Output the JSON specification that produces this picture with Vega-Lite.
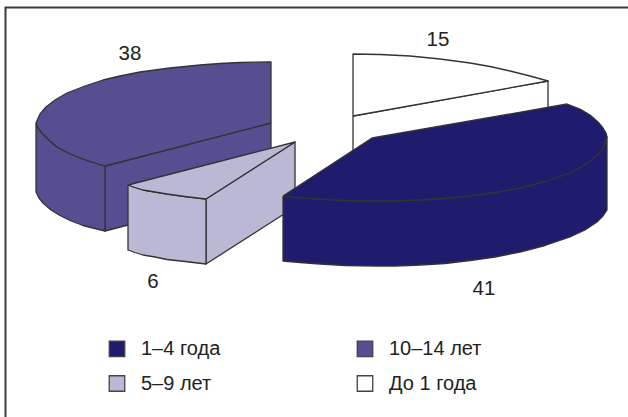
{
  "$schema": "https://vega.github.io/schema/vega-lite/v6.json",
  "width": 628,
  "height": 417,
  "autosize": "none",
  "padding": 0,
  "background": "white",
  "config": {"view": {"stroke": null}, "font": "Liberation Sans"},
  "datasets": {
    "frame": [
      {"n": 1, "x": 628, "y": 7.5},
      {"n": 2, "x": 5.5, "y": 7.5},
      {"n": 3, "x": 5.5, "y": 417}
    ],
    "shares": [
      {"group": "1–4 года", "share": 41, "lx": 484, "ly": 289},
      {"group": "10–14 лет", "share": 38, "lx": 130, "ly": 54},
      {"group": "5–9 лет", "share": 6, "lx": 153, "ly": 282},
      {"group": "До 1 года", "share": 15, "lx": 438, "ly": 40}
    ],
    "faces": [
      {"group": "До 1 года", "face": "w-front", "n": 1, "x": 353, "y": 116},
      {"group": "До 1 года", "face": "w-front", "n": 2, "x": 548, "y": 81},
      {"group": "До 1 года", "face": "w-front", "n": 3, "x": 548, "y": 145},
      {"group": "До 1 года", "face": "w-front", "n": 4, "x": 353, "y": 180},
      {"group": "До 1 года", "face": "w-front", "n": 5, "x": 353, "y": 116},

      {"group": "До 1 года", "face": "w-top", "n": 1, "x": 353, "y": 116},
      {"group": "До 1 года", "face": "w-top", "n": 2, "x": 353, "y": 54},
      {"group": "До 1 года", "face": "w-top", "n": 3, "x": 380, "y": 54.5},
      {"group": "До 1 года", "face": "w-top", "n": 4, "x": 410, "y": 56},
      {"group": "До 1 года", "face": "w-top", "n": 5, "x": 440, "y": 59},
      {"group": "До 1 года", "face": "w-top", "n": 6, "x": 470, "y": 63},
      {"group": "До 1 года", "face": "w-top", "n": 7, "x": 490, "y": 66.5},
      {"group": "До 1 года", "face": "w-top", "n": 8, "x": 510, "y": 71},
      {"group": "До 1 года", "face": "w-top", "n": 9, "x": 530, "y": 76},
      {"group": "До 1 года", "face": "w-top", "n": 10, "x": 548, "y": 81},
      {"group": "До 1 года", "face": "w-top", "n": 11, "x": 353, "y": 116},

      {"group": "10–14 лет", "face": "p-inner", "n": 1, "x": 105, "y": 166},
      {"group": "10–14 лет", "face": "p-inner", "n": 2, "x": 271, "y": 123},
      {"group": "10–14 лет", "face": "p-inner", "n": 3, "x": 271, "y": 188},
      {"group": "10–14 лет", "face": "p-inner", "n": 4, "x": 105, "y": 231},
      {"group": "10–14 лет", "face": "p-inner", "n": 5, "x": 105, "y": 166},

      {"group": "10–14 лет", "face": "p-outer", "n": 1, "x": 36, "y": 123},
      {"group": "10–14 лет", "face": "p-outer", "n": 2, "x": 38, "y": 128},
      {"group": "10–14 лет", "face": "p-outer", "n": 3, "x": 42, "y": 133},
      {"group": "10–14 лет", "face": "p-outer", "n": 4, "x": 49, "y": 140},
      {"group": "10–14 лет", "face": "p-outer", "n": 5, "x": 57, "y": 147},
      {"group": "10–14 лет", "face": "p-outer", "n": 6, "x": 68, "y": 153},
      {"group": "10–14 лет", "face": "p-outer", "n": 7, "x": 80, "y": 158},
      {"group": "10–14 лет", "face": "p-outer", "n": 8, "x": 92, "y": 162},
      {"group": "10–14 лет", "face": "p-outer", "n": 9, "x": 105, "y": 166},
      {"group": "10–14 лет", "face": "p-outer", "n": 10, "x": 105, "y": 231},
      {"group": "10–14 лет", "face": "p-outer", "n": 11, "x": 93, "y": 228},
      {"group": "10–14 лет", "face": "p-outer", "n": 12, "x": 83, "y": 225.5},
      {"group": "10–14 лет", "face": "p-outer", "n": 13, "x": 70, "y": 220.5},
      {"group": "10–14 лет", "face": "p-outer", "n": 14, "x": 60, "y": 215.5},
      {"group": "10–14 лет", "face": "p-outer", "n": 15, "x": 51, "y": 210},
      {"group": "10–14 лет", "face": "p-outer", "n": 16, "x": 43, "y": 203},
      {"group": "10–14 лет", "face": "p-outer", "n": 17, "x": 39, "y": 198},
      {"group": "10–14 лет", "face": "p-outer", "n": 18, "x": 36, "y": 192},
      {"group": "10–14 лет", "face": "p-outer", "n": 19, "x": 36, "y": 123},

      {"group": "10–14 лет", "face": "p-top", "n": 1, "x": 271, "y": 123},
      {"group": "10–14 лет", "face": "p-top", "n": 2, "x": 271, "y": 62},
      {"group": "10–14 лет", "face": "p-top", "n": 3, "x": 255, "y": 62.2},
      {"group": "10–14 лет", "face": "p-top", "n": 4, "x": 240, "y": 62.5},
      {"group": "10–14 лет", "face": "p-top", "n": 5, "x": 220, "y": 63.5},
      {"group": "10–14 лет", "face": "p-top", "n": 6, "x": 200, "y": 65},
      {"group": "10–14 лет", "face": "p-top", "n": 7, "x": 170, "y": 68},
      {"group": "10–14 лет", "face": "p-top", "n": 8, "x": 140, "y": 72},
      {"group": "10–14 лет", "face": "p-top", "n": 9, "x": 120, "y": 76},
      {"group": "10–14 лет", "face": "p-top", "n": 10, "x": 103, "y": 80},
      {"group": "10–14 лет", "face": "p-top", "n": 11, "x": 85, "y": 86},
      {"group": "10–14 лет", "face": "p-top", "n": 12, "x": 67, "y": 93},
      {"group": "10–14 лет", "face": "p-top", "n": 13, "x": 55, "y": 100},
      {"group": "10–14 лет", "face": "p-top", "n": 14, "x": 46, "y": 107},
      {"group": "10–14 лет", "face": "p-top", "n": 15, "x": 40, "y": 114},
      {"group": "10–14 лет", "face": "p-top", "n": 16, "x": 36, "y": 123},
      {"group": "10–14 лет", "face": "p-top", "n": 17, "x": 38, "y": 128},
      {"group": "10–14 лет", "face": "p-top", "n": 18, "x": 42, "y": 133},
      {"group": "10–14 лет", "face": "p-top", "n": 19, "x": 49, "y": 140},
      {"group": "10–14 лет", "face": "p-top", "n": 20, "x": 57, "y": 147},
      {"group": "10–14 лет", "face": "p-top", "n": 21, "x": 68, "y": 153},
      {"group": "10–14 лет", "face": "p-top", "n": 22, "x": 80, "y": 158},
      {"group": "10–14 лет", "face": "p-top", "n": 23, "x": 92, "y": 162},
      {"group": "10–14 лет", "face": "p-top", "n": 24, "x": 105, "y": 166},
      {"group": "10–14 лет", "face": "p-top", "n": 25, "x": 271, "y": 123},

      {"group": "5–9 лет", "face": "l-right", "n": 1, "x": 206, "y": 199},
      {"group": "5–9 лет", "face": "l-right", "n": 2, "x": 295, "y": 142},
      {"group": "5–9 лет", "face": "l-right", "n": 3, "x": 295, "y": 207},
      {"group": "5–9 лет", "face": "l-right", "n": 4, "x": 206, "y": 264},
      {"group": "5–9 лет", "face": "l-right", "n": 5, "x": 206, "y": 199},

      {"group": "5–9 лет", "face": "l-left", "n": 1, "x": 128, "y": 185},
      {"group": "5–9 лет", "face": "l-left", "n": 2, "x": 135, "y": 187.5},
      {"group": "5–9 лет", "face": "l-left", "n": 3, "x": 143, "y": 190},
      {"group": "5–9 лет", "face": "l-left", "n": 4, "x": 155, "y": 192},
      {"group": "5–9 лет", "face": "l-left", "n": 5, "x": 167, "y": 194},
      {"group": "5–9 лет", "face": "l-left", "n": 6, "x": 185, "y": 196.5},
      {"group": "5–9 лет", "face": "l-left", "n": 7, "x": 206, "y": 199},
      {"group": "5–9 лет", "face": "l-left", "n": 8, "x": 206, "y": 264},
      {"group": "5–9 лет", "face": "l-left", "n": 9, "x": 185, "y": 261.5},
      {"group": "5–9 лет", "face": "l-left", "n": 10, "x": 167, "y": 259.5},
      {"group": "5–9 лет", "face": "l-left", "n": 11, "x": 155, "y": 257},
      {"group": "5–9 лет", "face": "l-left", "n": 12, "x": 143, "y": 255},
      {"group": "5–9 лет", "face": "l-left", "n": 13, "x": 135, "y": 252.5},
      {"group": "5–9 лет", "face": "l-left", "n": 14, "x": 128, "y": 250},
      {"group": "5–9 лет", "face": "l-left", "n": 15, "x": 128, "y": 185},

      {"group": "5–9 лет", "face": "l-top", "n": 1, "x": 128, "y": 185},
      {"group": "5–9 лет", "face": "l-top", "n": 2, "x": 295, "y": 142},
      {"group": "5–9 лет", "face": "l-top", "n": 3, "x": 206, "y": 199},
      {"group": "5–9 лет", "face": "l-top", "n": 4, "x": 185, "y": 196.5},
      {"group": "5–9 лет", "face": "l-top", "n": 5, "x": 167, "y": 194},
      {"group": "5–9 лет", "face": "l-top", "n": 6, "x": 155, "y": 192},
      {"group": "5–9 лет", "face": "l-top", "n": 7, "x": 143, "y": 190},
      {"group": "5–9 лет", "face": "l-top", "n": 8, "x": 135, "y": 187.5},
      {"group": "5–9 лет", "face": "l-top", "n": 9, "x": 128, "y": 185},

      {"group": "1–4 года", "face": "n-side", "n": 1, "x": 283, "y": 196},
      {"group": "1–4 года", "face": "n-side", "n": 2, "x": 300, "y": 197.8},
      {"group": "1–4 года", "face": "n-side", "n": 3, "x": 320, "y": 199.2},
      {"group": "1–4 года", "face": "n-side", "n": 4, "x": 345, "y": 200.5},
      {"group": "1–4 года", "face": "n-side", "n": 5, "x": 370, "y": 201},
      {"group": "1–4 года", "face": "n-side", "n": 6, "x": 395, "y": 200.8},
      {"group": "1–4 года", "face": "n-side", "n": 7, "x": 420, "y": 200},
      {"group": "1–4 года", "face": "n-side", "n": 8, "x": 445, "y": 198.5},
      {"group": "1–4 года", "face": "n-side", "n": 9, "x": 470, "y": 196},
      {"group": "1–4 года", "face": "n-side", "n": 10, "x": 495, "y": 192.5},
      {"group": "1–4 года", "face": "n-side", "n": 11, "x": 520, "y": 188},
      {"group": "1–4 года", "face": "n-side", "n": 12, "x": 545, "y": 181.5},
      {"group": "1–4 года", "face": "n-side", "n": 13, "x": 570, "y": 173},
      {"group": "1–4 года", "face": "n-side", "n": 14, "x": 586, "y": 164},
      {"group": "1–4 года", "face": "n-side", "n": 15, "x": 600, "y": 153},
      {"group": "1–4 года", "face": "n-side", "n": 16, "x": 604, "y": 146},
      {"group": "1–4 года", "face": "n-side", "n": 17, "x": 607, "y": 137},
      {"group": "1–4 года", "face": "n-side", "n": 18, "x": 607, "y": 210},
      {"group": "1–4 года", "face": "n-side", "n": 19, "x": 603, "y": 216},
      {"group": "1–4 года", "face": "n-side", "n": 20, "x": 597, "y": 222},
      {"group": "1–4 года", "face": "n-side", "n": 21, "x": 585, "y": 230},
      {"group": "1–4 года", "face": "n-side", "n": 22, "x": 570, "y": 237},
      {"group": "1–4 года", "face": "n-side", "n": 23, "x": 545, "y": 245.5},
      {"group": "1–4 года", "face": "n-side", "n": 24, "x": 520, "y": 252},
      {"group": "1–4 года", "face": "n-side", "n": 25, "x": 495, "y": 257},
      {"group": "1–4 года", "face": "n-side", "n": 26, "x": 470, "y": 260.5},
      {"group": "1–4 года", "face": "n-side", "n": 27, "x": 445, "y": 263.5},
      {"group": "1–4 года", "face": "n-side", "n": 28, "x": 420, "y": 265},
      {"group": "1–4 года", "face": "n-side", "n": 29, "x": 395, "y": 266},
      {"group": "1–4 года", "face": "n-side", "n": 30, "x": 377, "y": 266},
      {"group": "1–4 года", "face": "n-side", "n": 31, "x": 345, "y": 265.5},
      {"group": "1–4 года", "face": "n-side", "n": 32, "x": 320, "y": 264},
      {"group": "1–4 года", "face": "n-side", "n": 33, "x": 300, "y": 262.5},
      {"group": "1–4 года", "face": "n-side", "n": 34, "x": 283, "y": 261},
      {"group": "1–4 года", "face": "n-side", "n": 35, "x": 283, "y": 196},

      {"group": "1–4 года", "face": "n-top", "n": 1, "x": 283, "y": 196},
      {"group": "1–4 года", "face": "n-top", "n": 2, "x": 372, "y": 138},
      {"group": "1–4 года", "face": "n-top", "n": 3, "x": 567, "y": 104},
      {"group": "1–4 года", "face": "n-top", "n": 4, "x": 580, "y": 109},
      {"group": "1–4 года", "face": "n-top", "n": 5, "x": 590, "y": 115},
      {"group": "1–4 года", "face": "n-top", "n": 6, "x": 598, "y": 122},
      {"group": "1–4 года", "face": "n-top", "n": 7, "x": 603, "y": 128},
      {"group": "1–4 года", "face": "n-top", "n": 8, "x": 606, "y": 133},
      {"group": "1–4 года", "face": "n-top", "n": 9, "x": 607, "y": 137},
      {"group": "1–4 года", "face": "n-top", "n": 10, "x": 604, "y": 146},
      {"group": "1–4 года", "face": "n-top", "n": 11, "x": 600, "y": 153},
      {"group": "1–4 года", "face": "n-top", "n": 12, "x": 586, "y": 164},
      {"group": "1–4 года", "face": "n-top", "n": 13, "x": 570, "y": 173},
      {"group": "1–4 года", "face": "n-top", "n": 14, "x": 545, "y": 181.5},
      {"group": "1–4 года", "face": "n-top", "n": 15, "x": 520, "y": 188},
      {"group": "1–4 года", "face": "n-top", "n": 16, "x": 495, "y": 192.5},
      {"group": "1–4 года", "face": "n-top", "n": 17, "x": 470, "y": 196},
      {"group": "1–4 года", "face": "n-top", "n": 18, "x": 445, "y": 198.5},
      {"group": "1–4 года", "face": "n-top", "n": 19, "x": 420, "y": 200},
      {"group": "1–4 года", "face": "n-top", "n": 20, "x": 395, "y": 200.8},
      {"group": "1–4 года", "face": "n-top", "n": 21, "x": 370, "y": 201},
      {"group": "1–4 года", "face": "n-top", "n": 22, "x": 345, "y": 200.5},
      {"group": "1–4 года", "face": "n-top", "n": 23, "x": 320, "y": 199.2},
      {"group": "1–4 года", "face": "n-top", "n": 24, "x": 300, "y": 197.8},
      {"group": "1–4 года", "face": "n-top", "n": 25, "x": 283, "y": 196}
    ]
  },
  "layer": [
    {
      "data": {"name": "frame"},
      "mark": {"type": "line", "stroke": "#3a3a3a", "strokeWidth": 2},
      "encoding": {
        "x": {"field": "x", "type": "quantitative", "scale": {"domain": [0, 628]}, "axis": null},
        "y": {"field": "y", "type": "quantitative", "scale": {"domain": [417, 0]}, "axis": null},
        "order": {"field": "n", "type": "ordinal"}
      }
    },
    {
      "data": {"name": "faces"},
      "mark": {"type": "line", "stroke": "#333333", "strokeWidth": 1.3, "strokeJoin": "round"},
      "encoding": {
        "x": {"field": "x", "type": "quantitative", "scale": {"domain": [0, 628]}, "axis": null},
        "y": {"field": "y", "type": "quantitative", "scale": {"domain": [417, 0]}, "axis": null},
        "detail": {"field": "face"},
        "order": {"field": "n", "type": "quantitative"},
        "fill": {
          "field": "group",
          "type": "nominal",
          "scale": {
            "domain": ["1–4 года", "5–9 лет", "10–14 лет", "До 1 года"],
            "range": ["#1f1c6e", "#bbb8d6", "#554f92", "#ffffff"]
          },
          "legend": {
            "orient": "none",
            "legendX": 107,
            "legendY": 338.5,
            "title": null,
            "columns": 2,
            "columnPadding": 133,
            "rowPadding": 13,
            "symbolType": "square",
            "symbolSize": 240,
            "symbolStrokeColor": "#444444",
            "symbolStrokeWidth": 1.3,
            "labelFontSize": 20,
            "labelColor": "#222222",
            "labelOffset": 14,
            "labelLimit": 200
          }
        }
      }
    },
    {
      "data": {"name": "shares"},
      "mark": {"type": "text", "fontSize": 20.5, "color": "#222222", "align": "center", "baseline": "middle"},
      "encoding": {
        "x": {"field": "lx", "type": "quantitative", "scale": {"domain": [0, 628]}, "axis": null},
        "y": {"field": "ly", "type": "quantitative", "scale": {"domain": [417, 0]}, "axis": null},
        "text": {"field": "share", "type": "quantitative"}
      }
    }
  ]
}
